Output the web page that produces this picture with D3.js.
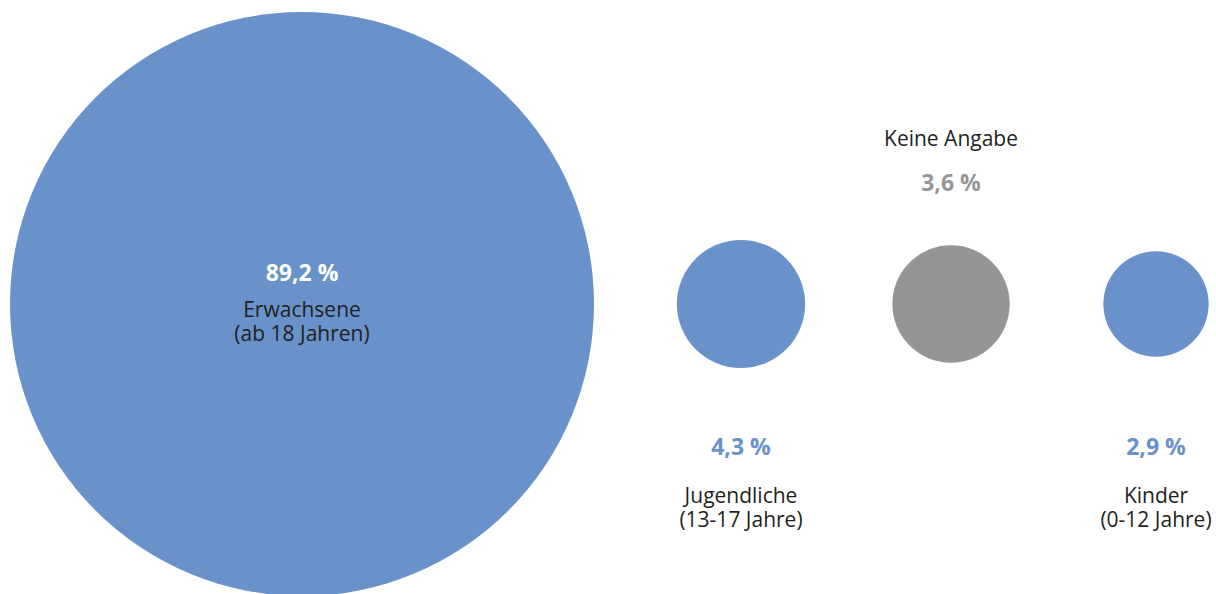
<!doctype html>
<html>
  <head>
    <meta charset="utf-8">
    <script src="https://cdnjs.cloudflare.com/ajax/libs/d3/7.8.5/d3.min.js"></script>
    <style>
      body { margin: 0; background: #fff; }
      text { font-family: "Open Sans", "Noto Sans", sans-serif; }
    </style>
  </head>
  <body>
    <svg id="chart" width="1216" height="594"></svg>
    <script>
      var categories = ["Erwachsene", "Jugendliche", "Keine Angabe", "Kinder"];
      var subLabels = ["(ab 18 Jahren)", "(13-17 Jahre)", "", "(0-12 Jahre)"];
      var shares = [89.2, 4.3, 3.6, 2.9];

      var blue = "#6992cb", grey = "#959598", dark = "#231f20";

      var data = categories.map((c, i) => ({name: c, sub: subLabels[i], value: shares[i]}));
      var fmt = v => d3.format(".1f")(v).replace(".", ",") + " %";

      var r = d3.scaleSqrt().domain([0, 89.2]).range([0, 292]);
      var x = d3.scaleOrdinal().domain(categories.slice(1)).range([741, 951, 1156]);
      var cx = d => d.name === "Erwachsene" ? 10 + r(d.value) : x(d.name);
      var cy = 304;

      var svg = d3.select("#chart");

      var g = svg.selectAll("g.bubble")
        .data(data)
        .enter()
        .append("g")
          .attr("class", "bubble")
          .attr("transform", d => "translate(" + cx(d) + "," + cy + ")");

      g.append("circle")
        .attr("r", d => r(d.value))
        .style("fill", d => d.name === "Keine Angabe" ? grey : blue);

      // labels: inside for the big one, above for "Keine Angabe", below for the rest
      g.each(function(d) {
        var el = d3.select(this);
        var pctColor = d.name === "Erwachsene" ? "#fff" : (d.name === "Keine Angabe" ? grey : blue);
        var pctY, nameY;
        if (d.name === "Erwachsene") { pctY = -23; nameY = 13; }
        else if (d.name === "Keine Angabe") { pctY = -113; nameY = -158; }
        else { pctY = 151; nameY = 199; }

        el.append("text")
          .attr("y", pctY)
          .attr("text-anchor", "middle")
          .style("font-size", "23px")
          .style("font-weight", 700)
          .style("fill", pctColor)
          .text(fmt(d.value));

        el.append("text")
          .attr("y", nameY)
          .attr("text-anchor", "middle")
          .style("font-size", "21px")
          .style("fill", dark)
          .text(d.name);

        if (d.sub) el.append("text")
          .attr("y", nameY + 24)
          .attr("text-anchor", "middle")
          .style("font-size", "21px")
          .style("fill", dark)
          .text(d.sub);
      });
    </script>
  </body>
</html>
